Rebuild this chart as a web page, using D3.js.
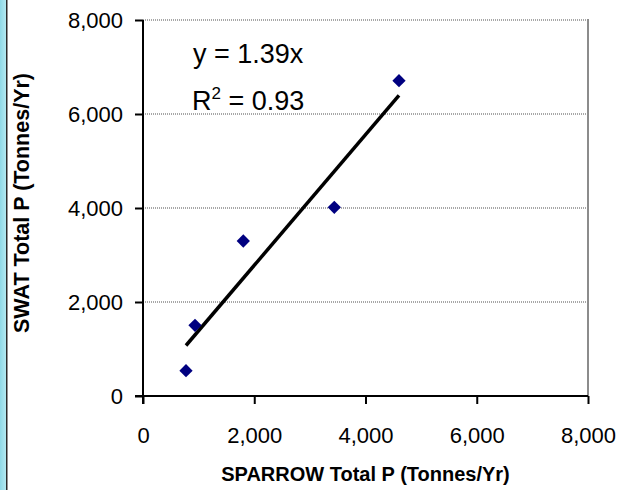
<!DOCTYPE html>
<html>
<head>
<meta charset="utf-8">
<script src="https://cdn.jsdelivr.net/npm/d3@7"></script>
<style>
  html, body { margin: 0; padding: 0; background: #fff; }
  svg { display: block; }
</style>
</head>
<body>
<svg id="chart" width="618" height="490"></svg>
<script>
// ---- data ----
const sparrowP = [773, 935, 1803, 3439, 4602];
const swatP = [538, 1504, 3298, 4015, 6709];
const xTicks = [0, 2000, 4000, 6000, 8000];
const yTicks = [0, 2000, 4000, 6000, 8000];
const trendSlope = 1.39;
const eqLine1 = "y = 1.39x";
const eqR2 = "0.93";
const xTitle = "SPARROW Total P (Tonnes/Yr)";
const yTitle = "SWAT Total P (Tonnes/Yr)";

const svg = d3.select("#chart");
const font = "Liberation Sans, Arial, Helvetica, sans-serif";

// left decorative bar
const defs = svg.append("defs");
const grad = defs.append("linearGradient").attr("id", "lbar").attr("x1", 0).attr("x2", 1);
grad.append("stop").attr("offset", "0%").attr("stop-color", "#8fd9e7");
grad.append("stop").attr("offset", "100%").attr("stop-color", "#b3e9f1");
svg.append("rect").attr("x", 0).attr("y", 0).attr("width", 6).attr("height", 490).attr("fill", "url(#lbar)");
svg.append("rect").attr("x", 6).attr("y", 0).attr("width", 1.5).attr("height", 490).attr("fill", "#2a2a2a");

const L = 143, R = 588, T = 20, B = 396;
const x = d3.scaleLinear().domain([0, 8000]).range([L, R]);
const y = d3.scaleLinear().domain([0, 8000]).range([B, T]);
const fmt = d3.format(",");

// gridlines
svg.append("g").selectAll("line").data(yTicks.filter(d => d > 0)).join("line")
  .attr("x1", L).attr("x2", R)
  .attr("y1", d => y(d)).attr("y2", d => y(d))
  .attr("stroke", "#8a8a8a").attr("stroke-width", 1.3).attr("stroke-dasharray", "1,1");

// right border
svg.append("line").attr("x1", R).attr("x2", R).attr("y1", T - 1).attr("y2", B)
  .attr("stroke", "#8c8c8c").attr("stroke-width", 2);

// axes
const yAxis = d3.axisLeft(y).tickValues(yTicks).tickFormat(fmt).tickSize(8).tickPadding(12);
const xAxis = d3.axisBottom(x).tickValues(xTicks).tickFormat(fmt).tickSize(8).tickPadding(23);

const gy = svg.append("g").attr("transform", `translate(${L},0)`).call(yAxis);
const gx = svg.append("g").attr("transform", `translate(0,${B})`).call(xAxis);
[gx, gy].forEach(g => {
  g.select(".domain").remove();
  g.selectAll(".tick line").attr("stroke", "#000").attr("stroke-width", 2);
  g.selectAll("text").attr("font-family", font).attr("font-size", 22).attr("fill", "#000");
});
// axis lines extending through tick length
svg.append("line").attr("x1", L).attr("x2", L).attr("y1", T).attr("y2", B + 8)
  .attr("stroke", "#000").attr("stroke-width", 2);
svg.append("line").attr("x1", L - 8).attr("x2", R).attr("y1", B).attr("y2", B)
  .attr("stroke", "#000").attr("stroke-width", 2);

// trendline
const xmin = d3.min(sparrowP), xmax = d3.max(sparrowP);
svg.append("line")
  .attr("x1", x(xmin)).attr("y1", y(trendSlope * xmin))
  .attr("x2", x(xmax)).attr("y2", y(trendSlope * xmax))
  .attr("stroke", "#000").attr("stroke-width", 3.5);

// points
const sym = d3.symbol().type(d3.symbolSquare).size(88);
svg.append("g").selectAll("path").data(sparrowP.map((v, i) => [v, swatP[i]])).join("path")
  .attr("d", sym)
  .attr("transform", d => `translate(${x(d[0])},${y(d[1])}) rotate(45)`)
  .attr("fill", "#000080");

// equation
svg.append("text").attr("x", 193).attr("y", 63)
  .attr("font-family", font).attr("font-size", 27).attr("fill", "#000")
  .text(eqLine1);
const r2 = svg.append("text").attr("x", 192).attr("y", 110)
  .attr("font-family", font).attr("font-size", 27).attr("fill", "#000");
r2.append("tspan").text("R");
r2.append("tspan").attr("dy", -11).attr("font-size", 17).text("2");
r2.append("tspan").attr("dy", 11).text(" = " + eqR2);

// axis titles
svg.append("text").attr("x", (L + R) / 2).attr("y", 481)
  .attr("text-anchor", "middle").attr("font-family", font)
  .attr("font-size", 20).attr("font-weight", "bold").attr("fill", "#000")
  .text(xTitle);
svg.append("text")
  .attr("transform", `translate(29,203) rotate(-90)`)
  .attr("text-anchor", "middle").attr("font-family", font)
  .attr("font-size", 21.5).attr("font-weight", "bold").attr("fill", "#000")
  .text(yTitle);
</script>
</body>
</html>
